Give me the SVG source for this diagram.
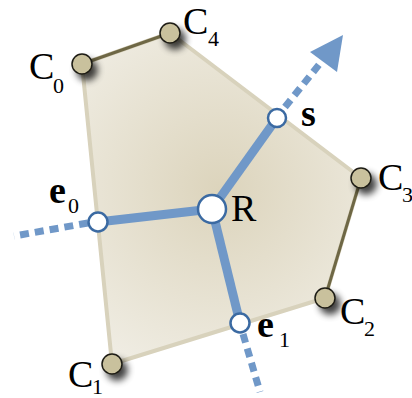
<svg xmlns="http://www.w3.org/2000/svg" width="412" height="398" viewBox="0 0 412 398">
<style>
.lbl{font-family:"Liberation Serif","Times New Roman",serif;fill:#000}
.big{font-size:38px}
.sub{font-size:22px}
.bold{font-weight:bold}
.corner{fill:#c9c19d;stroke:#1e1c14;stroke-width:1.5}
.pt{fill:#fff;stroke:#3b6aa2;stroke-width:2.5}
.thick{stroke:#7098c8;stroke-width:9;fill:none;stroke-linecap:butt}
.dash{stroke:#7098c8;stroke-width:7;fill:none;stroke-dasharray:9 6}
.darkedge{stroke:#6e6745;stroke-width:3;fill:none}
</style>
<defs>
<radialGradient id="fillg" cx="220" cy="190" r="190" gradientUnits="userSpaceOnUse">
<stop offset="0" stop-color="#dcd4bc"/>
<stop offset="1" stop-color="#efece2"/>
</radialGradient>
<filter id="sh" x="-100%" y="-100%" width="300%" height="300%">
<feGaussianBlur in="SourceAlpha" stdDeviation="3.5"/>
<feOffset dx="5" dy="6" result="b"/>
<feComponentTransfer><feFuncA type="linear" slope="0.75"/></feComponentTransfer>
<feMerge><feMergeNode/><feMergeNode in="SourceGraphic"/></feMerge>
</filter>
</defs>
<g id="region">
<polygon points="82,64 170,33 361,178 325,298 112,364" fill="url(#fillg)" stroke="#d8d2bc" stroke-width="4" stroke-linejoin="round"/>
<line class="darkedge" x1="82" y1="64" x2="170" y2="33"/>
<line class="darkedge" x1="361" y1="178" x2="325" y2="298"/>
</g>
<g id="connectors">
<line class="thick" x1="212" y1="209" x2="277" y2="118"/>
<line class="thick" x1="212" y1="209" x2="98" y2="222"/>
<line class="thick" x1="212" y1="209" x2="240" y2="323"/>
<line class="dash" x1="285" y1="107" x2="322" y2="61"/>
<polygon points="343,35 310,52 337,72" fill="#7098c8"/>
<line class="dash" x1="88" y1="223" x2="14" y2="236"/>
<line class="dash" x1="243" y1="334" x2="260" y2="392"/>
</g>
<g id="C0"><circle class="corner" cx="82" cy="64" r="10" filter="url(#sh)"/><text class="lbl big" x="29" y="79">C</text><text class="lbl sub" x="53" y="93">0</text></g>
<g id="C4"><circle class="corner" cx="170" cy="33" r="10" filter="url(#sh)"/><text class="lbl big" x="183" y="34">C</text><text class="lbl sub" x="208" y="46">4</text></g>
<g id="C3"><circle class="corner" cx="361" cy="178" r="10" filter="url(#sh)"/><text class="lbl big" x="378" y="190">C</text><text class="lbl sub" x="402" y="202">3</text></g>
<g id="C2"><circle class="corner" cx="325" cy="298" r="10" filter="url(#sh)"/><text class="lbl big" x="340" y="324">C</text><text class="lbl sub" x="364" y="336">2</text></g>
<g id="C1"><circle class="corner" cx="112" cy="364" r="10" filter="url(#sh)"/><text class="lbl big" x="68" y="387">C</text><text class="lbl sub" x="92" y="394">1</text></g>
<g id="R"><circle class="pt" cx="212" cy="209" r="14"/><text class="lbl big" x="231" y="221">R</text></g>
<g id="s"><circle class="pt" cx="277" cy="118" r="9"/><text class="lbl big bold" x="301" y="126">s</text></g>
<g id="e0"><circle class="pt" cx="98" cy="222" r="9.5"/><text class="lbl big bold" x="49" y="203">e</text><text class="lbl sub" x="68" y="213">0</text></g>
<g id="e1"><circle class="pt" cx="240" cy="323" r="9.5"/><text class="lbl big bold" x="257" y="337">e</text><text class="lbl sub" x="279" y="347">1</text></g>
</svg>
